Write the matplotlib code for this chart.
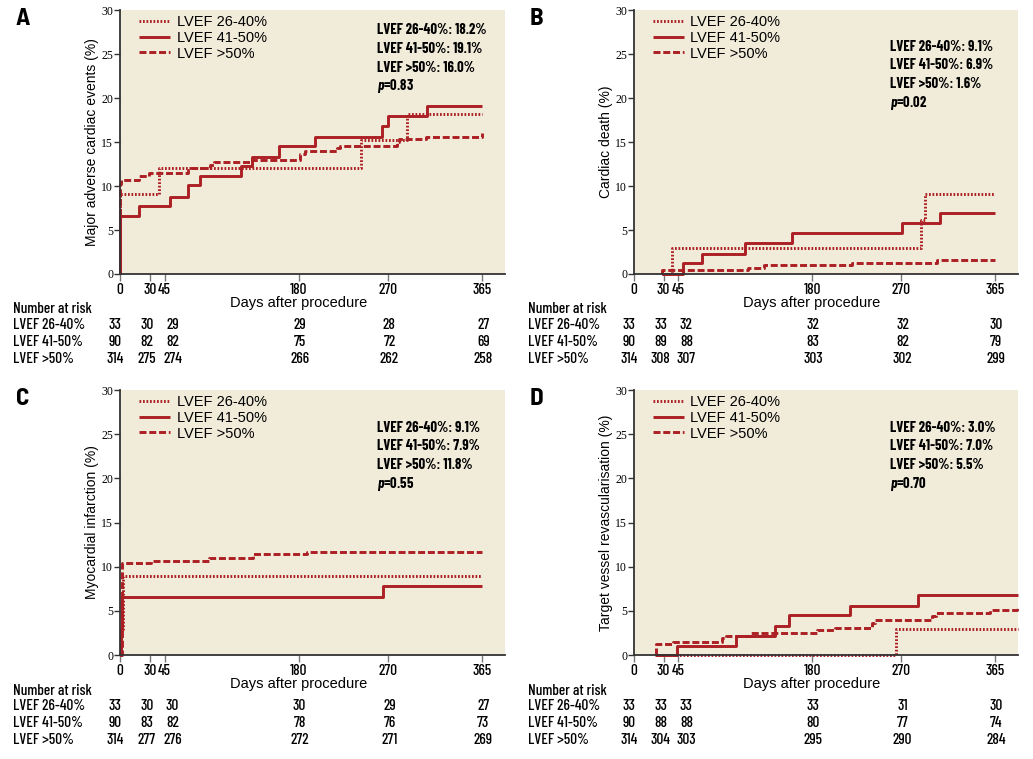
import matplotlib
matplotlib.use('Agg')
import matplotlib.pyplot as plt
import matplotlib.transforms as mtransforms

# 字型設定
narrow = ['Barlow Condensed', 'Liberation Sans Narrow', 'Liberation Sans']
plt.rcParams['font.family'] = ['Liberation Sans', 'DejaVu Sans']
plt.rcParams['mathtext.fontset'] = 'custom'
plt.rcParams['mathtext.it'] = 'Barlow Condensed:italic:bold'

red = '#AC1F24'
beige = '#F1ECDA'

groups = ['LVEF 26-40%', 'LVEF 41-50%', 'LVEF >50%']
styles = [(0, (0.6, 0.6)), '-', (0, (2.4, 0.95))]
ticks_days = [0, 30, 45, 180, 270, 365]

# ---- A: major adverse cardiac events ----
a_t_2640 = [0, 0, 39.6, 242.6, 289, 365]
a_y_2640 = [0, 9.1, 12.1, 15.2, 18.2, 18.2]
a_t_4150 = [0, 0, 19.5, 50.4, 68, 80.6, 121.6, 132.7, 160.6, 196, 264, 270.5, 309.8, 365]
a_y_4150 = [0, 6.6, 7.7, 8.8, 10.1, 11.1, 12.3, 13.3, 14.5, 15.6, 16.8, 18.0, 19.1, 19.1]
a_t_50 = [0, 0, 1, 19, 29.6, 68, 71.6, 90.7, 95, 132.7, 181.5, 186.5, 218.4, 221.8, 279, 281.3, 308.2, 365]
a_y_50 = [0, 10.2, 10.7, 11.1, 11.5, 11.8, 12.1, 12.4, 12.7, 13.0, 13.6, 14.0, 14.3, 14.6, 15.0, 15.3, 15.6, 16.0]
a_risk = [[33, 30, 29, 29, 28, 27], [90, 82, 82, 75, 72, 69], [314, 275, 274, 266, 262, 258]]
a_rates = ['18.2%', '19.1%', '16.0%']
a_p = '0.83'

# ---- B: cardiac death ----
b_t_2640 = [28.6, 38.7, 289.6, 294.6, 364.6]
b_y_2640 = [0, 3.0, 6.1, 9.1, 9.1]
b_t_4150 = [28.6, 49.8, 68.4, 112, 159.3, 271, 309, 364.6]
b_y_4150 = [0, 1.2, 2.3, 3.5, 4.7, 5.8, 6.9, 6.9]
b_t_50 = [28.6, 28.6, 115.5, 131, 220, 306.7, 364.6]
b_y_50 = [0, 0.4, 0.7, 1.0, 1.3, 1.6, 1.6]
b_risk = [[33, 33, 32, 32, 32, 30], [90, 89, 88, 83, 82, 79], [314, 308, 307, 303, 302, 299]]
b_rates = ['9.1%', '6.9%', '1.6%']
b_p = '0.02'

# ---- C: myocardial infarction ----
c_t_2640 = [0, 1, 2.5, 365]
c_y_2640 = [0, 3.0, 9.0, 9.0]
c_t_4150 = [0, 0.5, 1.5, 265, 365]
c_y_4150 = [0, 3.0, 6.6, 7.8, 7.8]
c_t_50 = [0, 2, 31, 90, 134, 188, 365]
c_y_50 = [0, 10.4, 10.7, 11.0, 11.4, 11.7, 11.7]
c_risk = [[33, 30, 30, 30, 29, 27], [90, 83, 82, 78, 76, 73], [314, 277, 276, 272, 271, 269]]
c_rates = ['9.1%', '7.9%', '11.8%']
c_p = '0.55'

# ---- D: target vessel revascularisation ----
d_t_2640 = [21, 264.3, 388]
d_y_2640 = [0, 3.0, 3.0]
d_t_4150 = [21.9, 43.7, 102.7, 143, 156.6, 217.9, 287, 388]
d_y_4150 = [0, 1.0, 2.2, 3.3, 4.5, 5.6, 6.8, 6.8]
d_t_50 = [22, 22, 39.7, 88.6, 92.6, 117.9, 184.5, 203, 240.7, 243.4, 300.7, 305.7, 359.6, 387.5]
d_y_50 = [0, 1.3, 1.5, 1.9, 2.2, 2.5, 2.8, 3.1, 3.6, 4.0, 4.4, 4.8, 5.1, 5.4]
d_risk = [[33, 33, 33, 33, 31, 30], [90, 88, 88, 80, 77, 74], [314, 304, 303, 295, 290, 284]]
d_rates = ['3.0%', '7.0%', '5.5%']
d_p = '0.70'

# 風險人數欄位位置 (天)
risk_x = [-5, 27, 53, 181, 271.5, 366]


def draw_panel(ax, letter, ylabel, curves, risk, rates, pval, note_x, note_y):
    ax.set_facecolor(beige)
    for (t, y), ls, name in zip(curves, styles, groups):
        ax.step(t, y, where='post', color=red, linestyle=ls, lw=2.1, label=name,
                solid_capstyle='butt', clip_on=False, zorder=3)
    ax.set_xlim(0, 388)
    ax.set_ylim(0, 30)
    for s in ['top', 'right']:
        ax.spines[s].set_visible(False)
    for s in ['left', 'bottom']:
        ax.spines[s].set_color('#333333')
        ax.spines[s].set_linewidth(1.3)
        ax.spines[s].set_zorder(4)
    ax.set_yticks(range(0, 31, 5))
    ax.set_xticks(ticks_days)
    ax.set_xticklabels(['0', '30', '45', '180', '270', '365'], family=narrow, fontsize=11,
                       fontweight=500)
    for lab in ax.get_yticklabels():
        lab.set_family(['Liberation Serif', 'DejaVu Serif'])
        lab.set_fontsize(8.5)
    ax.tick_params(axis='y', length=4, width=1, color='#333333', pad=1)
    ax.tick_params(axis='x', length=5, width=1, color='#777777', pad=1.5)
    ax.set_ylabel(ylabel, fontsize=10)
    ax.yaxis.set_label_coords(-0.054, 0.5)

    trans = mtransforms.blended_transform_factory(ax.transData, ax.transAxes)
    ax.text(180, -0.111, 'Days after procedure', transform=trans, ha='center', va='center',
            fontsize=10.5)

    ax.legend(loc='upper left', bbox_to_anchor=(0.035, 1.003), frameon=False, fontsize=10.5,
              handlelength=2.1, handletextpad=0.45, labelspacing=0.12, borderaxespad=0)

    lines = ['LVEF 26-40%: ' + rates[0], 'LVEF 41-50%: ' + rates[1],
             'LVEF >50%: ' + rates[2], '$p$=' + pval]
    for i, s in enumerate(lines):
        ax.text(note_x, note_y - i * 0.071, s, transform=ax.transAxes, ha='left', va='center',
                family=narrow, fontweight='bold', fontsize=10.5)

    # Number at risk 表格
    ax.text(-0.277, -0.134, 'Number at risk', transform=ax.transAxes, ha='left', va='center',
            family=narrow, fontsize=11, fontweight=500)
    for r, (name, row) in enumerate(zip(groups, risk)):
        yy = -0.193 - r * 0.064
        ax.text(-0.277, yy, name, transform=ax.transAxes, ha='left', va='center',
                family=narrow, fontsize=11, fontweight=500)
        for x, n in zip(risk_x, row):
            ax.text(x, yy, str(n), transform=trans, ha='center', va='center',
                    family=narrow, fontsize=11, fontweight=500)

    ax.figure.text(ax.get_position().x0 - 0.101, ax.get_position().y1 + 0.003, letter,
                   fontsize=18, fontweight='bold',
                   family=['Barlow Semi Condensed', 'Liberation Sans'], ha='left', va='top')


fig = plt.figure(figsize=(10.33, 7.59), dpi=100)
ax_a = fig.add_axes([0.1162, 0.639, 0.3727, 0.3478])
ax_b = fig.add_axes([0.6137, 0.639, 0.3717, 0.3478])
ax_c = fig.add_axes([0.1162, 0.137, 0.3727, 0.3491])
ax_d = fig.add_axes([0.6137, 0.137, 0.3717, 0.3491])

draw_panel(ax_a, 'A', 'Major adverse cardiac events (%)',
           [(a_t_2640, a_y_2640), (a_t_4150, a_y_4150), (a_t_50, a_y_50)],
           a_risk, a_rates, a_p, 0.667, 0.924)
draw_panel(ax_b, 'B', 'Cardiac death (%)',
           [(b_t_2640, b_y_2640), (b_t_4150, b_y_4150), (b_t_50, b_y_50)],
           b_risk, b_rates, b_p, 0.668, 0.861)
draw_panel(ax_c, 'C', 'Myocardial infarction (%)',
           [(c_t_2640, c_y_2640), (c_t_4150, c_y_4150), (c_t_50, c_y_50)],
           c_risk, c_rates, c_p, 0.667, 0.858)
draw_panel(ax_d, 'D', 'Target vessel revascularisation (%)',
           [(d_t_2640, d_y_2640), (d_t_4150, d_y_4150), (d_t_50, d_y_50)],
           d_risk, d_rates, d_p, 0.668, 0.858)

fig.savefig('out.png', dpi=100)
